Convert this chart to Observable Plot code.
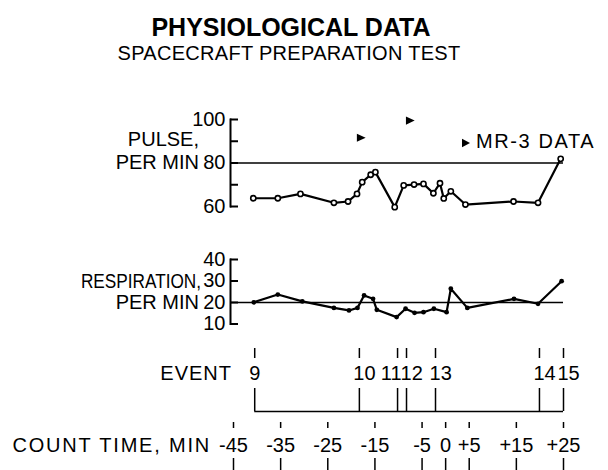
<!DOCTYPE html>
<html><head><meta charset="utf-8">
<script src="https://cdn.jsdelivr.net/npm/d3@7"></script>
<script src="https://cdn.jsdelivr.net/npm/@observablehq/plot@0.6"></script>
<style>
body{margin:0;background:#fff;}
#chart{position:relative;width:608px;height:470px;overflow:hidden;font-family:"Liberation Sans",Arial,sans-serif;color:#000;background:#fff;}
.lbl{position:absolute;line-height:1;white-space:nowrap;}
#chart svg{position:absolute;left:0;overflow:visible;}
</style></head><body><div id="chart"></div>
<script>
// ---------- data ----------
const titleText = "PHYSIOLOGICAL DATA";
const subtitleText = "SPACECRAFT PREPARATION TEST";

// count time (min) of each pulse reading, and pulse (per min)
const pulseTime = [-40.8, -35.6, -30.8, -23.7, -20.7, -18.8, -17.7, -15.9, -14.9, -10.8, -8.9, -6.7, -4.7, -2.6, -1.2, -0.4, 1.1, 4.2, 14.4, 19.6, 24.4];
const pulseRate = [63.8, 63.8, 65.8, 61.7, 62.3, 65.8, 71.2, 74.6, 75.8, 59.7, 69.7, 70.1, 70.4, 66.1, 70.7, 63.7, 67.0, 60.9, 62.3, 61.7, 81.9];
// MR-3 data
const mr3Time = [-18.0, -7.6];
const mr3Pulse = [91.6, 99.5];
const pulseTicks = [60, 70, 80, 90, 100];
const pulseTickLabels = [60, 80, 100];
const pulseRef = 80;

// respiration (per min)
const respTime = [-40.7, -35.6, -30.4, -23.7, -20.5, -18.7, -17.3, -15.4, -14.6, -10.4, -8.5, -6.6, -4.7, -2.5, 0.2, 1.1, 4.6, 14.5, 19.6, 24.6];
const respRate = [20.1, 23.7, 20.5, 17.5, 16.3, 17.5, 23.3, 21.7, 16.6, 13.2, 17.1, 15.2, 15.5, 17.1, 15.5, 26.4, 17.5, 21.7, 19.4, 29.9];
const respTicks = [10, 20, 30, 40];
const respTickLabels = [10, 20, 30, 40];
const respRef = 20;

// events
const eventLabels = ["9", "10", "11", "12", "13", "14", "15"];
const eventTime = [-40.5, -18.3, -10.2, -8.3, -2.15, 19.9, 25.0];

// count time axis
const countValues = [-45, -35, -25, -15, -5, 0, 5, 15, 25];
const countLabels = ["-45", "-35", "-25", "-15", "-5", "0", "+5", "+15", "+25"];

// ---------- layout ----------
const chart = document.getElementById("chart");
const FONT = '"Liberation Sans", Arial, sans-serif';
const W = 608;
const xScale = {domain: [-45, 25], range: [233, 563], axis: null};
const base = {width: W, marginLeft: 230, marginRight: 45,
  style: {fontFamily: FONT, fontSize: "20px", background: "transparent", overflow: "visible", color: "black"}};

function label(text, x, y, anchor, opts = {}) {
  const d = document.createElement("div");
  d.className = "lbl";
  d.textContent = text;
  d.style.fontSize = (opts.size || 20) + "px";
  if (opts.bold) d.style.fontWeight = "bold";
  if (opts.ls) d.style.letterSpacing = opts.ls + "px";
  d.style.left = x + "px";
  d.style.top = y + "px";
  const tx = anchor === "middle" ? "-50%" : anchor === "end" ? "-100%" : "0";
  d.style.transform = `translate(${tx},-50%)` + (opts.sx ? ` scaleX(${opts.sx})` : "");
  if (opts.sx) d.style.transformOrigin = anchor === "end" ? "right center" : "left center";
  chart.appendChild(d);
}
function place(svg, top) { svg.style.top = top + "px"; chart.appendChild(svg); }

// title
label(titleText, 291, 27, "middle", {size: 25, bold: true});
label(subtitleText, 289, 53, "middle", {size: 20, ls: 0.3});

// right-pointing triangle symbol
const triRight = {draw(ctx, size) {
  const s = Math.sqrt(size);
  ctx.moveTo(s * 0.5, 0);
  ctx.lineTo(-s * 0.4, -s * 0.42);
  ctx.lineTo(-s * 0.4, s * 0.42);
  ctx.closePath();
}};

// ---------- pulse panel ----------
const pulseData = pulseTime.map((t, i) => ({t, v: pulseRate[i]}));
const mr3Data = mr3Time.map((t, i) => ({t, v: mr3Pulse[i]}));
place(Plot.plot({
  ...base, height: 120, marginTop: 19, marginBottom: 14,
  x: xScale, y: {domain: [60, 100]},
  marks: [
    Plot.frame({anchor: "left", strokeWidth: 2}),
    Plot.tickY(pulseTicks, {insetRight: 325, strokeWidth: 2}),
    Plot.ruleY([pulseRef], {strokeWidth: 1.6}),
    Plot.axisY(pulseTickLabels, {tickSize: 0, tickPadding: 5, fontSize: 20, label: null}),
    Plot.line(pulseData, {x: "t", y: "v", strokeWidth: 2.2}),
    Plot.dot(pulseData, {x: "t", y: "v", r: 2.6, fill: "white", stroke: "black", strokeWidth: 1.6}),
    Plot.dot(mr3Data, {x: "t", y: "v", symbol: triRight, r: 5.5, fill: "black", stroke: "none"})
  ]
}), 100);
label("PULSE,", 199, 139, "end");
label("PER MIN", 199, 162, "end");
// legend
{
  const d = document.createElement("div");
  d.className = "lbl";
  d.style.left = "461px"; d.style.top = "141px"; d.style.transform = "translate(0,-50%)";
  d.style.fontSize = "20px"; d.style.letterSpacing = "1.6px";
  d.innerHTML = '<svg width="10" height="10" style="position:static;vertical-align:middle;margin-right:5px"><path d="M9,5 L1,0.8 L1,9.2 Z" fill="black"/></svg>MR-3 DATA';
  chart.appendChild(d);
}

// ---------- respiration panel ----------
const respData = respTime.map((t, i) => ({t, v: respRate[i]}));
place(Plot.plot({
  ...base, height: 100, marginTop: 19, marginBottom: 16.5,
  x: xScale, y: {domain: [10, 40]},
  marks: [
    Plot.frame({anchor: "left", strokeWidth: 2}),
    Plot.tickY(respTicks, {insetRight: 325, strokeWidth: 2}),
    Plot.ruleY([respRef], {strokeWidth: 1.6}),
    Plot.axisY(respTickLabels, {tickSize: 0, tickPadding: 5, fontSize: 20, label: null}),
    Plot.line(respData, {x: "t", y: "v", strokeWidth: 2.2}),
    Plot.dot(respData, {x: "t", y: "v", r: 2.4, fill: "black"})
  ]
}), 240);
label("RESPIRATION,", 201, 281, "end", {sx: 0.86});
label("PER MIN", 199, 302, "end");

// ---------- event row ----------
const eventData = eventLabels.map((l, i) => ({label: l, t: eventTime[i]}));
const evText = {x: "t", text: "label", frameAnchor: "top", lineAnchor: "middle", dy: 25, fontSize: 20};
place(Plot.plot({
  ...base, height: 75, marginTop: 8, marginBottom: 4,
  x: xScale, y: {domain: [0, 1], axis: null},
  marks: [
    Plot.tickX(eventData, {x: "t", insetBottom: 53, strokeWidth: 1.5}),
    Plot.tickX(eventData, {x: "t", insetTop: 40, strokeWidth: 1.5}),
    Plot.ruleY([0], {x1: () => eventTime[0], x2: () => eventTime[eventTime.length - 1], strokeWidth: 1.5}),
    Plot.text(eventData.filter(d => d.label === "9"), {...evText, textAnchor: "middle"}),
    Plot.text(eventData.filter(d => d.label === "11"), {...evText, textAnchor: "end", dx: 4}),
    Plot.text(eventData.filter(d => d.label !== "9" && d.label !== "11"), {...evText, textAnchor: "start", dx: -6})
  ]
}), 340);
label("EVENT", 232, 373, "end", {ls: 1});

// ---------- count time row ----------
const countData = countValues.map((v, i) => ({v, label: countLabels[i]}));
place(Plot.plot({
  ...base, height: 55, marginTop: 7, marginBottom: 0,
  x: xScale,
  marks: [
    Plot.tickX(countData, {x: "v", insetBottom: 42, strokeWidth: 1.5}),
    Plot.tickX(countData, {x: "v", insetTop: 36, strokeWidth: 1.5}),
    Plot.text(countData, {x: "v", text: "label", frameAnchor: "top", lineAnchor: "middle", dy: 23, fontSize: 20})
  ]
}), 415);
label("COUNT TIME, MIN", 211, 445, "end", {ls: 1.8});
</script>
</body></html>
